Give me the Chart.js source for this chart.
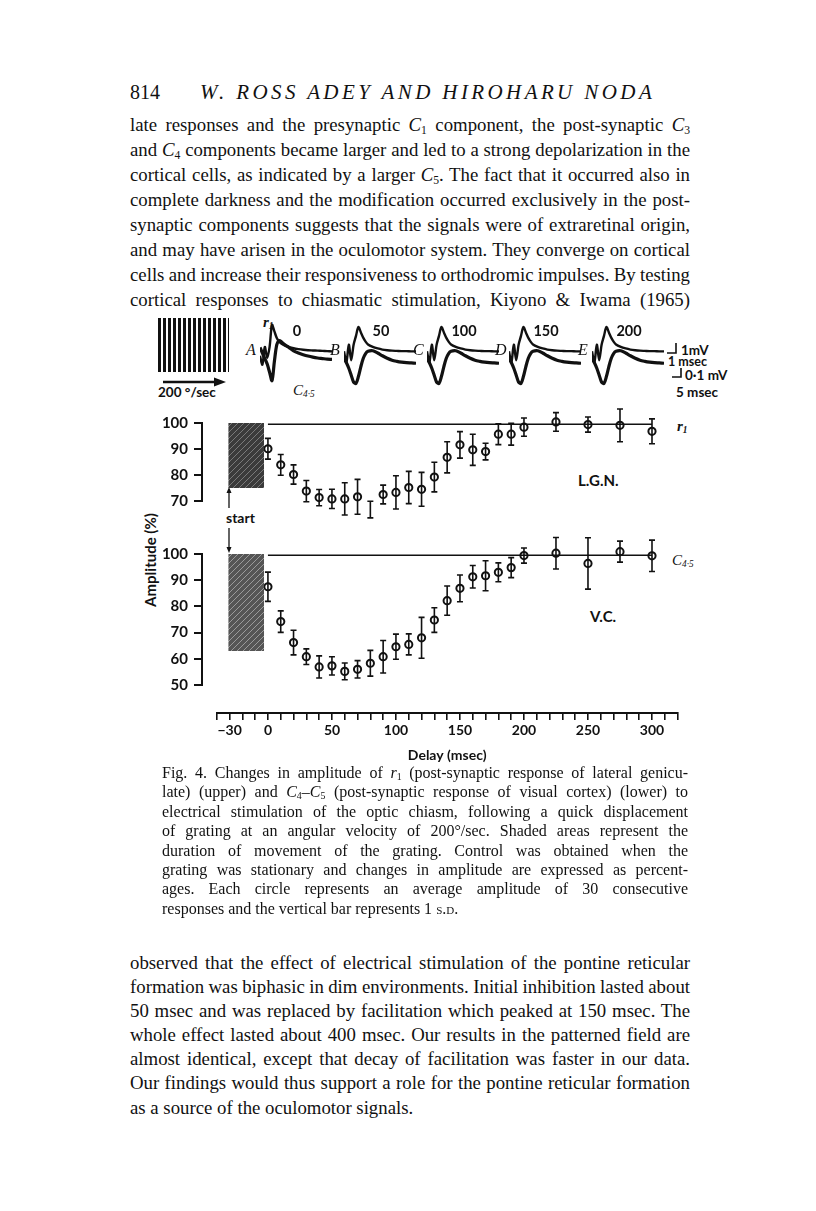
<!DOCTYPE html>
<html>
<head>
<meta charset="utf-8">
<script src="https://cdn.jsdelivr.net/npm/chart.js@4.4.1/dist/chart.umd.min.js"></script>
<style>
  html, body { margin: 0; padding: 0; background: #fff; }
  #page { position: relative; width: 816px; height: 1211px; overflow: hidden; color: #111; }
  .abs { position: absolute; }
  .serif { font-family: "Liberation Serif", "DejaVu Serif", serif; }
  .sans { font-family: Lato, "Open Sans", sans-serif; font-weight: 700; }
  .para div { text-align: justify; text-align-last: justify; }
  .para div.last { text-align-last: left; word-spacing: 0; }
  .body { word-spacing: -2.5px; }
  sub { font-size: 0.62em; vertical-align: -0.25em; line-height: 0; }
  canvas { position: absolute; }
</style>
</head>
<body>
<div id="page">
  <div class="abs serif" style="left:130px; top:79px; font-size:20px; line-height:26px;">814</div>
  <div class="abs serif" style="left:200px; top:79px; font-size:21px; line-height:26px; font-style:italic; letter-spacing:3.4px;">W. ROSS ADEY AND HIROHARU NODA</div>

  <div class="abs serif para body" style="left:130px; top:112px; width:560px; font-size:18.8px; line-height:25px;">
    <div>late responses and the presynaptic <i>C</i><sub>1</sub> component, the post-synaptic <i>C</i><sub>3</sub></div>
    <div>and <i>C</i><sub>4</sub> components became larger and led to a strong depolarization in the</div>
    <div>cortical cells, as indicated by a larger <i>C</i><sub>5</sub>. The fact that it occurred also in</div>
    <div>complete darkness and the modification occurred exclusively in the post-</div>
    <div>synaptic components suggests that the signals were of extraretinal origin,</div>
    <div>and may have arisen in the oculomotor system. They converge on cortical</div>
    <div>cells and increase their responsiveness to orthodromic impulses. By testing</div>
    <div>cortical responses to chiasmatic stimulation, Kiyono &amp; Iwama (1965)</div>
  </div>

  <!-- stimulus: grating and its movement -->
  <div class="abs" style="left:158px; top:318px; width:71px; height:54px; background: repeating-linear-gradient(to right, #111 0 2.6px, transparent 2.6px 5px);"></div>
  <svg class="abs" style="left:158px; top:376px;" width="70" height="12">
    <line x1="5" y1="6" x2="58" y2="6" stroke="#111" stroke-width="2.5"/>
    <polygon points="68,6 56,1.5 56,10.5" fill="#111"/>
  </svg>
  <div class="abs sans" style="left:158px; top:384px; font-size:13.5px;">200 °/sec</div>

  <!-- trace labels -->
  <div class="abs serif" style="left:263px; top:314px; font-size:15px; font-style:italic; font-weight:bold;">r<sub>1</sub></div>
  <div class="abs serif" style="left:293px; top:382px; font-size:15px; font-style:italic;">C<sub>4·5</sub></div>

  <!-- scale bars -->
  <svg class="abs" style="left:662px; top:340px;" width="30" height="50">
    <polyline points="14,3 14,13 5,13" fill="none" stroke="#111" stroke-width="1.6"/>
    <polyline points="19,28 19,37 10,37" fill="none" stroke="#111" stroke-width="1.6"/>
  </svg>
  <div class="abs sans" style="left:681px; top:344px; font-size:13.5px; line-height:13px;">1mV</div>
  <div class="abs sans" style="left:668px; top:356px; font-size:12.5px; line-height:12px;">1 msec</div>
  <div class="abs sans" style="left:685px; top:369px; font-size:13.5px; line-height:13px;">0·1 mV</div>
  <div class="abs sans" style="left:676px; top:384px; font-size:13.5px;">5 msec</div>

  <!-- panel annotations -->
  <div class="abs serif" style="left:677px; top:418px; font-size:15px; font-style:italic; font-weight:bold;">r<sub>1</sub></div>
  <div class="abs sans" style="left:578px; top:471px; font-size:15px;">L.G.N.</div>
  <div class="abs serif" style="left:672px; top:552px; font-size:15px; font-style:italic;">C<sub>4·5</sub></div>
  <div class="abs sans" style="left:590px; top:607px; font-size:15px;">V.C.</div>
  <div class="abs sans" style="left:226px; top:509px; font-size:14px;">start</div>
  <svg class="abs" style="left:222px; top:486px;" width="14" height="70">
    <line x1="7" y1="22" x2="7" y2="5" stroke="#111" stroke-width="1.3"/>
    <polygon points="7,1 4.5,7 9.5,7" fill="#111"/>
    <line x1="7" y1="42" x2="7" y2="62" stroke="#111" stroke-width="1.3"/>
    <polygon points="7,67 4.5,61 9.5,61" fill="#111"/>
  </svg>
  <div class="abs sans" style="left:150px; top:560px; font-size:15px; transform: translate(-50%, -50%) rotate(-90deg); white-space:nowrap;">Amplitude (%)</div>

  <canvas id="traceA" width="72" height="72" style="left:260px; top:317px;"></canvas>
  <canvas id="traceB" width="72" height="72" style="left:344px; top:317px;"></canvas>
  <canvas id="traceC" width="72" height="72" style="left:427px; top:317px;"></canvas>
  <canvas id="traceD" width="72" height="72" style="left:509px; top:317px;"></canvas>
  <canvas id="traceE" width="72" height="72" style="left:592px; top:317px;"></canvas>

  <canvas id="lgnChart" width="560" height="120" style="left:130px; top:405px;"></canvas>
  <canvas id="vcChart" width="560" height="169" style="left:130px; top:536px;"></canvas>
  <canvas id="delayAxis" width="560" height="70" style="left:130px; top:700px;"></canvas>

  <div class="abs serif para" style="left:162px; top:763px; width:526px; font-size:16px; line-height:19.4px;">
    <div>Fig. 4. Changes in amplitude of <i>r</i><sub>1</sub> (post-synaptic response of lateral genicu-</div>
    <div>late) (upper) and <i>C</i><sub>4</sub>–<i>C</i><sub>5</sub> (post-synaptic response of visual cortex) (lower) to</div>
    <div>electrical stimulation of the optic chiasm, following a quick displacement</div>
    <div>of grating at an angular velocity of 200°/sec. Shaded areas represent the</div>
    <div>duration of movement of the grating. Control was obtained when the</div>
    <div>grating was stationary and changes in amplitude are expressed as percent-</div>
    <div>ages. Each circle represents an average amplitude of 30 consecutive</div>
    <div class="last">responses and the vertical bar represents 1 <span style="font-variant:small-caps;">s.d.</span></div>
  </div>

  <div class="abs serif para body" style="left:130px; top:951px; width:560px; font-size:18.8px; line-height:24.1px;">
    <div>observed that the effect of electrical stimulation of the pontine reticular</div>
    <div>formation was biphasic in dim environments. Initial inhibition lasted about</div>
    <div>50 msec and was replaced by facilitation which peaked at 150 msec. The</div>
    <div>whole effect lasted about 400 msec. Our results in the patterned field are</div>
    <div>almost identical, except that decay of facilitation was faster in our data.</div>
    <div>Our findings would thus support a role for the pontine reticular formation</div>
    <div class="last">as a source of the oculomotor signals.</div>
  </div>
</div>

<script>
// delay after the grating stopped (msec)
const delays = [0, 10, 20, 30, 40, 50, 60, 70, 80, 90, 100, 110, 120, 130, 140, 150, 160, 170, 180, 190, 200, 225, 250, 275, 300];

// L.G.N. r1 amplitude (%) and 1 s.d.
const lgnMean = [90.1, 83.9, 80.2, 73.8, 71.3, 70.8, 70.8, 71.6, 66.7, 72.5, 73.3, 75.2, 74.5, 79.2, 86.8, 91.6, 89.7, 89.0, 95.7, 95.7, 98.4, 100.4, 99.4, 99.1, 96.8];
const lgnSd   = [4.0, 4.0, 3.7, 4.1, 3.1, 3.7, 6.2, 6.7, 3.2, 3.6, 6.4, 6.2, 6.5, 5.7, 6.0, 5.1, 6.0, 3.2, 4.0, 4.2, 3.5, 3.6, 2.9, 6.3, 4.8];

// V.C. C4,5 amplitude (%) and 1 s.d.
const vcMean = [87.5, 74.2, 66.2, 60.8, 56.9, 57.3, 55.2, 56.0, 58.3, 60.8, 64.6, 65.5, 68.0, 74.8, 82.2, 86.9, 91.3, 91.7, 93.0, 94.8, 99.4, 100.3, 96.4, 100.9, 99.3];
const vcSd   = [5.6, 4.1, 4.7, 3.0, 4.2, 3.5, 3.2, 3.3, 4.9, 6.2, 4.8, 4.0, 7.8, 4.7, 5.6, 5.1, 4.3, 5.7, 3.6, 3.8, 2.9, 6.0, 9.8, 4.0, 6.0];

// control level and grating movement period
const controlSpan = [0, 300];
const controlLevel = 99.5;
const movementSpan = [-31, -3];
const lgnShadeRange = [75, 100];
const vcShadeRange = [63, 100];

// delay ruler
const rulerTicks = [-30, 0, 50, 100, 150, 200, 250, 300];

// oscilloscope sweeps (msec, arbitrary units)
const traceTime = [0, 1, 2, 3, 4, 5, 6, 7, 8, 9, 10, 12, 14, 16, 18, 20, 22, 24, 26, 28, 30];
const r1SweepA  = [-2, -6, 2, -3, 2, 12, 9, 6, 4.3, 3.4, 2.8, 2, 1.4, 1, 0.7, 0.5, 0.4, 0.3, 0.2, 0.1, 0];
const r1Sweep   = [0, -5, 3, -4, 3, 7, 11, 8.6, 6.2, 4.4, 3.1, 2, 1.3, 0.8, 0.5, 0.3, 0.2, 0.1, 0.1, 0, 0];
const c45SweepA = [6, 4, 2, 0, -3, -6, 1, 7, 8.5, 8, 7.2, 6, 4.8, 4, 3.4, 2.9, 2.5, 2.2, 2, 1.8, 1.7];
const c45Sweep  = [2, 0.5, -1.5, -4, -6.5, -7, -4.5, -1, 2, 3.8, 4.6, 4.8, 4, 3, 2.1, 1.4, 1, 0.7, 0.5, 0.4, 0.3];
const panelNames = ['A', 'B', 'C', 'D', 'E'];
const panelDelays = ['0', '50', '100', '150', '200'];

Chart.defaults.font.family = 'Lato, "Open Sans", sans-serif';
Chart.defaults.font.weight = 'bold';
Chart.defaults.color = '#111';

function hatch(base, stripe) {
  const c = document.createElement('canvas');
  c.width = 6; c.height = 6;
  const g = c.getContext('2d');
  g.fillStyle = base;
  g.fillRect(0, 0, 6, 6);
  g.strokeStyle = stripe;
  g.lineWidth = 1;
  g.beginPath();
  g.moveTo(0, 6); g.lineTo(6, 0);
  g.moveTo(-3, 3); g.lineTo(3, -3);
  g.moveTo(3, 9); g.lineTo(9, 3);
  g.stroke();
  return g.createPattern(c, 'repeat');
}

const errorBars = {
  id: 'errorBars',
  afterDatasetsDraw(chart) {
    const { ctx, scales } = chart;
    chart.data.datasets.forEach((ds) => {
      if (!ds.sd) return;
      ctx.save();
      ctx.strokeStyle = '#111';
      ctx.lineWidth = 1.6;
      ds.data.forEach((p, j) => {
        const px = scales.x.getPixelForValue(p.x);
        const top = scales.y.getPixelForValue(p.y + ds.sd[j]);
        const bot = scales.y.getPixelForValue(p.y - ds.sd[j]);
        ctx.beginPath();
        ctx.moveTo(px, top); ctx.lineTo(px, bot);
        ctx.moveTo(px - 3, top); ctx.lineTo(px + 3, top);
        ctx.moveTo(px - 3, bot); ctx.lineTo(px + 3, bot);
        ctx.stroke();
      });
      ctx.restore();
    });
  }
};

function amplitudeChart(id, mean, sd, yMin, shadeRange, shadeFill, bottomPad) {
  const pts = delays.map((d, i) => ({ x: d, y: mean[i] }));
  return new Chart(document.getElementById(id), {
    type: 'line',
    data: {
      datasets: [
        {
          data: movementSpan.map(x => ({ x, y: shadeRange[1] })),
          fill: { value: shadeRange[0] },
          backgroundColor: shadeFill,
          borderWidth: 0,
          pointRadius: 0,
          clip: false
        },
        {
          data: controlSpan.map(x => ({ x, y: controlLevel })),
          borderColor: '#111',
          borderWidth: 1.6,
          pointRadius: 0,
          fill: false,
          clip: false
        },
        {
          data: pts,
          sd: sd,
          showLine: false,
          pointRadius: 3.6,
          pointBorderWidth: 2,
          pointBorderColor: '#111',
          pointBackgroundColor: '#fff',
          clip: false
        }
      ]
    },
    options: {
      responsive: false,
      animation: false,
      layout: { padding: { top: 18, right: 12.4, bottom: bottomPad, left: 0 } },
      plugins: { legend: { display: false }, tooltip: { enabled: false } },
      scales: {
        x: { type: 'linear', min: -51.5, max: 320, display: false },
        y: {
          min: yMin, max: 100,
          afterFit: (s) => { s.width = 72; },
          ticks: { stepSize: 10, padding: 6, font: { size: 15, weight: 'bold' }, color: '#111' },
          grid: { drawOnChartArea: false, tickLength: 8, color: '#111', lineWidth: 2 },
          border: { display: true, color: '#111', width: 2 }
        }
      }
    },
    plugins: [errorBars]
  });
}

amplitudeChart('lgnChart', lgnMean, lgnSd, 70, lgnShadeRange, hatch('#3b3b3b', '#7a7a7a'), 24);
amplitudeChart('vcChart', vcMean, vcSd, 50, vcShadeRange, hatch('#555', '#9a9a9a'), 20);

new Chart(document.getElementById('delayAxis'), {
  type: 'line',
  data: { datasets: [{ data: [] }] },
  options: {
    responsive: false,
    animation: false,
    layout: { padding: { top: 0, right: 12.4, bottom: 0, left: 86.8 } },
    plugins: { legend: { display: false }, tooltip: { enabled: false } },
    scales: {
      x: {
        type: 'linear', min: -40, max: 320,
        afterFit: (s) => { s.height = 57; },
        afterBuildTicks: (s) => {
          const t = [];
          for (let v = -40; v <= 320; v += 10) t.push({ value: v });
          s.ticks = t;
        },
        ticks: {
          autoSkip: false, maxRotation: 0, padding: 2,
          font: { size: 14, weight: 'bold' }, color: '#111',
          callback: (v) => rulerTicks.includes(v) ? String(v).replace('-', '\u2212') : ''
        },
        grid: { drawOnChartArea: false, tickLength: 7, color: '#111', lineWidth: 1.6 },
        border: { display: true, color: '#111', width: 2 },
        title: { display: true, text: 'Delay (msec)', font: { size: 14, weight: 'bold' }, color: '#111', padding: { top: 2, bottom: 6 } }
      },
      y: { display: false, min: 0, max: 1 }
    }
  }
});

// oscilloscope records A-E
const page = document.getElementById('page');
panelNames.forEach((name, i) => {
  const canvas = document.getElementById('trace' + name);
  const left = parseFloat(canvas.style.left);
  const up = i === 0 ? r1SweepA : r1Sweep;
  const low = i === 0 ? c45SweepA : c45Sweep;
  new Chart(canvas, {
    type: 'line',
    data: {
      datasets: [
        { data: traceTime.map((t, k) => ({ x: t, y: up[k] })), yAxisID: 'yU', borderColor: '#111', borderWidth: 2.4, pointRadius: 0, tension: 0.3 },
        { data: traceTime.map((t, k) => ({ x: t, y: low[k] })), yAxisID: 'yL', borderColor: '#111', borderWidth: 3.2, pointRadius: 0, tension: 0.3 }
      ]
    },
    options: {
      responsive: false,
      animation: false,
      plugins: { legend: { display: false }, tooltip: { enabled: false } },
      scales: {
        x: { type: 'linear', min: 0, max: 30, display: false },
        yU: { min: -17, max: 15.5, display: false },
        yL: { min: -9, max: 17, display: false }
      }
    }
  });
  const letter = document.createElement('div');
  letter.className = 'abs serif';
  letter.style.cssText = `left:${left - 14}px; top:341px; font-size:16px; font-style:italic;`;
  letter.textContent = name;
  page.appendChild(letter);
  const num = document.createElement('div');
  num.className = 'abs sans';
  num.style.cssText = `left:${left + 12}px; top:322px; width:50px; text-align:center; font-size:14.5px;`;
  num.textContent = panelDelays[i];
  page.appendChild(num);
});
</script>
</body>
</html>
